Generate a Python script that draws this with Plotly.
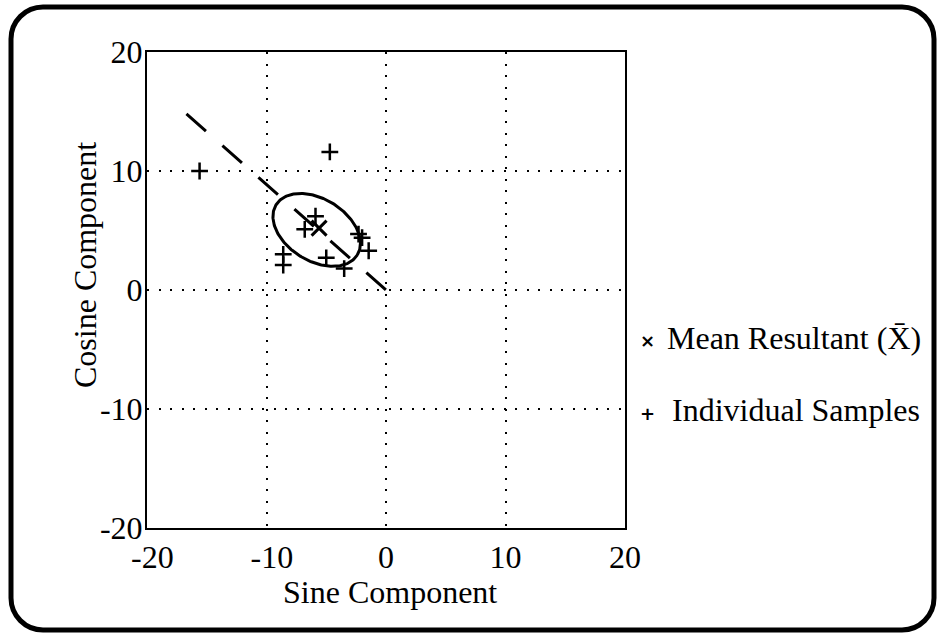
import numpy as np
import plotly.graph_objects as go

# Individual samples (sine, cosine components)
sample_x = [-15.6, -4.7, -5.9, -6.8, -8.6, -8.6, -5.0, -3.5, -2.3, -2.0, -1.45]
sample_y = [10.0, 11.6, 6.2, 5.1, 3.0, 2.1, 2.7, 1.8, 4.7, 4.4, 3.3]

# Mean resultant vector
mean_x = [-5.6]
mean_y = [5.2]

# Dashed direction line through the mean resultant, ending at the origin
dir_x = [-16.7, 0.0]
dir_y = [14.8, 0.0]

# Confidence ellipse around the mean: centre, semi-axes, rotation (deg)
ell_center = (-5.8, 5.05)
ell_axes = (4.0, 2.6)
ell_angle = -32.0

axis_ticks = [-20, -10, 0, 10, 20]
y_ticktext = ["-20", "-10", "0", "10", "20"]
# negative x labels sit slightly right of their gridlines
x_ticktext = ["\u2004-20", "\u2004-10", "0", "10", "20"]

FONT = "Liberation Serif"
SYM_FONT = "DejaVu Sans"
W, H = 938, 636
ML, MR, MT, MB = 147, 313, 52, 108
PW, PH = W - ML - MR, H - MT - MB


def px(x):
    return (x - ML) / PW


def py(y):
    return (H - MB - y) / PH


t = np.linspace(0, 2 * np.pi, 241)
th = np.deg2rad(ell_angle)
a, b = ell_axes
ex = ell_center[0] + a * np.cos(t) * np.cos(th) - b * np.sin(t) * np.sin(th)
ey = ell_center[1] + a * np.cos(t) * np.sin(th) + b * np.sin(t) * np.cos(th)

fig = go.Figure()
fig.add_trace(go.Scatter(x=dir_x, y=dir_y, mode="lines",
                         line=dict(color="black", width=3, dash="26px,22px")))
fig.add_trace(go.Scatter(x=ex, y=ey, mode="lines",
                         line=dict(color="black", width=3)))
fig.add_trace(go.Scatter(x=sample_x, y=sample_y, mode="markers",
                         marker=dict(symbol="cross-thin", size=12,
                                     line=dict(color="black", width=2.5))))
fig.add_trace(go.Scatter(x=mean_x, y=mean_y, mode="markers",
                         marker=dict(symbol="x-thin", size=15,
                                     line=dict(color="black", width=3))))

axis_common = dict(
    range=[-20, 20], tickvals=axis_ticks,
    showgrid=True, gridcolor="black", gridwidth=2, griddash="2px,9.5px",
    zeroline=False, showline=True, linecolor="black", linewidth=2, mirror=True,
    ticks="", tickfont=dict(family=FONT, size=32, color="black"),
)
fig.update_xaxes(**axis_common, ticktext=x_ticktext, ticklabelstandoff=0)
fig.update_yaxes(**axis_common, ticktext=y_ticktext, ticklabelstandoff=-4)

# Rounded outer frame, drawn in paper coordinates
L, R, T, B, rad = 11, 934, 7, 630, 32
k = 0.5523 * rad
path = (
    f"M {px(L + rad)} {py(T)} L {px(R - rad)} {py(T)} "
    f"C {px(R - rad + k)} {py(T)} {px(R)} {py(T + rad - k)} {px(R)} {py(T + rad)} "
    f"L {px(R)} {py(B - rad)} "
    f"C {px(R)} {py(B - rad + k)} {px(R - rad + k)} {py(B)} {px(R - rad)} {py(B)} "
    f"L {px(L + rad)} {py(B)} "
    f"C {px(L + rad - k)} {py(B)} {px(L)} {py(B - rad + k)} {px(L)} {py(B - rad)} "
    f"L {px(L)} {py(T + rad)} "
    f"C {px(L)} {py(T + rad - k)} {px(L + rad - k)} {py(T)} {px(L + rad)} {py(T)} Z"
)
fig.add_shape(type="path", path=path, xref="paper", yref="paper",
              line=dict(color="black", width=5), layer="above")

ann_font = dict(family=FONT, size=32, color="black")
sym_font = dict(family=SYM_FONT, size=18, color="black")
annotations = [
    dict(text="Sine Component", x=px(390), y=py(592), xanchor="center",
         yanchor="middle", font=ann_font),
    dict(text="Cosine Component", x=px(85), y=py(265), xanchor="center",
         yanchor="middle", textangle=-90, font=ann_font),
    dict(text="<b>×</b>", x=px(647), y=py(340), xanchor="center", yanchor="middle",
         font=sym_font),
    dict(text="Mean Resultant (X\u0304)", x=px(665), y=py(338), xanchor="left",
         yanchor="middle", font=ann_font),
    dict(text="<b>+</b>", x=px(647), y=py(413), xanchor="center", yanchor="middle",
         font=sym_font),
    dict(text="Individual Samples", x=px(670), y=py(410), xanchor="left",
         yanchor="middle", font=ann_font),
]
for an in annotations:
    an.update(xref="paper", yref="paper", showarrow=False)

fig.update_layout(
    width=W, height=H, margin=dict(l=ML, r=MR, t=MT, b=MB),
    paper_bgcolor="white", plot_bgcolor="white", showlegend=False,
    annotations=annotations, font=dict(family=FONT),
)

fig.write_html("out.html")
